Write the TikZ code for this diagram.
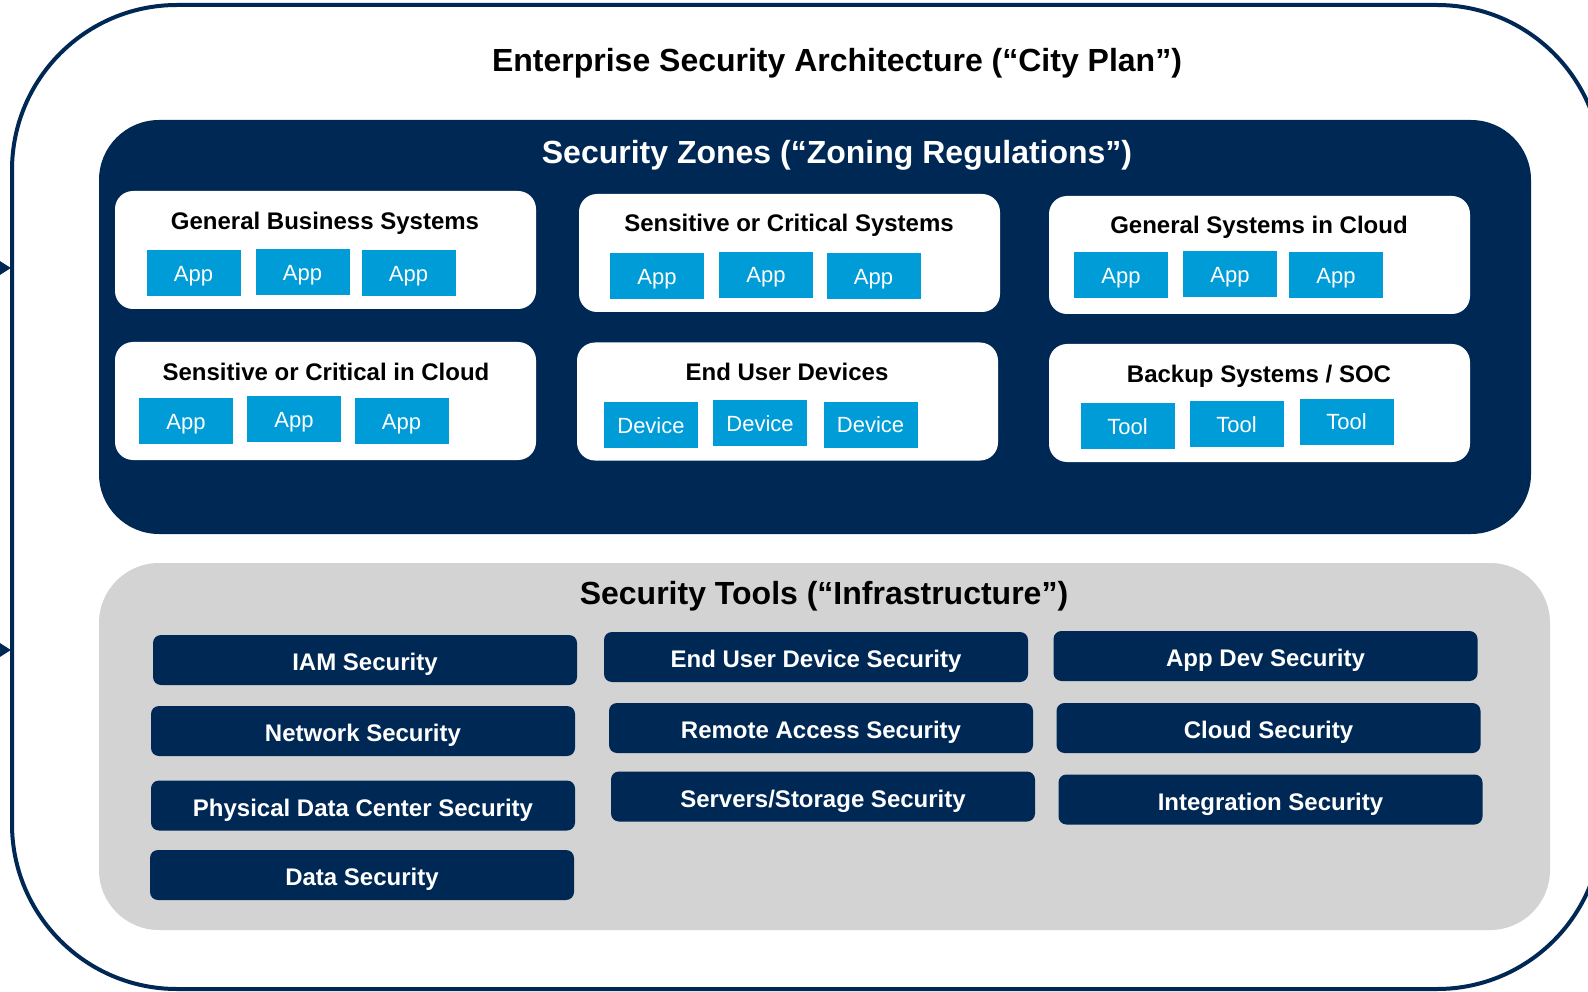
\documentclass[tikz,border=0pt]{standalone}
\usepackage{fontspec}
\setmainfont{Liberation Sans}
\usetikzlibrary{arrows.meta}
\definecolor{navy}{HTML}{002855}
\definecolor{appblue}{HTML}{009CD8}
\definecolor{panelgray}{HTML}{D3D3D3}
\begin{document}
\begin{tikzpicture}[x=1pt,y=-1pt,
  bigtitle/.style={font=\bfseries\fontsize{32}{38}\selectfont, anchor=base, inner sep=0},
  ztitle/.style={font=\bfseries\fontsize{24}{28}\selectfont, anchor=base, inner sep=0},
  zonebox/.style={fill=white, rounded corners=18pt, minimum width=421pt, minimum height=118pt, inner sep=0},
  app/.style={fill=appblue, text=white, minimum width=94pt, minimum height=46pt, inner sep=0,
    text height=16pt, text depth=0pt, font=\fontsize{22}{26}\selectfont},
  bar/.style={fill=navy, text=white, rounded corners=8pt, minimum width=424pt, minimum height=50pt, inner sep=0,
    text height=21pt, text depth=0pt, font=\bfseries\fontsize{24}{28}\selectfont},
  feed/.style={navy, line width=3pt, -{Triangle[length=11pt,width=13pt]}}
]
\useasboundingbox (0,0) rectangle (1588,992);
\clip (0,0) rectangle (1588,992);
\fill[white] (0,0) rectangle (1588,992);

% outer frame
\draw[navy, line width=4pt, rounded corners=165pt] (12,5) rectangle (1602,989);
\node[bigtitle] (title) at (837,72) {Enterprise Security Architecture (“City Plan”)};

% incoming arrows
\coordinate (a1s) at (-40,268); \coordinate (a1e) at (11,268);
\coordinate (a2s) at (-40,650); \coordinate (a2e) at (11,650);
\draw[feed] (a1s) -- (a1e);
\draw[feed] (a2s) -- (a2e);

% zones panel
\fill[navy, rounded corners=60pt] (99,120) rectangle (1531,534);
\node[bigtitle, text=white] (zt) at (837,164) {Security Zones (“Zoning Regulations”)};

\node[zonebox] (z1) at (325.5,250) {};
\node[ztitle] (z1t) at (325,230) {General Business Systems};
\node[app] (z1a) at (193.5,273.5) {App};
\node[app] (z1b) at (302.5,272.5) {App};
\node[app] (z1c) at (408.5,273.5) {App};

\node[zonebox] (z2) at (789.5,253) {};
\node[ztitle] (z2t) at (789,232) {Sensitive or Critical Systems};
\node[app] (z2a) at (657,276.5) {App};
\node[app] (z2b) at (766,275) {App};
\node[app] (z2c) at (873.5,276.5) {App};

\node[zonebox] (z3) at (1259.5,255) {};
\node[ztitle] (z3t) at (1259,234) {General Systems in Cloud};
\node[app] (z3a) at (1121,275.5) {App};
\node[app] (z3b) at (1230,274.5) {App};
\node[app] (z3c) at (1336,275.5) {App};

\node[zonebox] (z4) at (325.5,401) {};
\node[ztitle] (z4t) at (326,380) {Sensitive or Critical in Cloud};
\node[app] (z4a) at (186,421) {App};
\node[app] (z4b) at (294,419) {App};
\node[app] (z4c) at (401.5,421) {App};

\node[zonebox] (z5) at (787.5,401.5) {};
\node[ztitle] (z5t) at (787,380) {End User Devices};
\node[app] (z5a) at (651,425) {Device};
\node[app] (z5b) at (760,423) {Device};
\node[app] (z5c) at (870.5,424.5) {Device};

\node[zonebox] (z6) at (1259.5,403) {};
\node[ztitle] (z6t) at (1259,382) {Backup Systems / SOC};
\node[app] (z6a) at (1127.5,426) {Tool};
\node[app] (z6b) at (1236.5,424) {Tool};
\node[app] (z6c) at (1346.5,421.5) {Tool};

% tools panel
\fill[panelgray, rounded corners=60pt] (99,563) rectangle (1550,930);
\node[bigtitle] (tt) at (824,604) {Security Tools (“Infrastructure”)};

\node[bar] (t1) at (365,660) {IAM Security};
\node[bar] (t2) at (363,731) {Network Security};
\node[bar] (t3) at (363,805.5) {Physical Data Center Security};
\node[bar] (t4) at (362,875) {Data Security};
\node[bar] (t5) at (816,657) {End User Device Security};
\node[bar] (t6) at (821,728) {Remote Access Security};
\node[bar] (t7) at (823,796.5) {Servers/Storage Security};
\node[bar] (t8) at (1265.5,656) {App Dev Security};
\node[bar] (t9) at (1268.5,728) {Cloud Security};
\node[bar] (t10) at (1270.5,799.5) {Integration Security};
\end{tikzpicture}
\end{document}
